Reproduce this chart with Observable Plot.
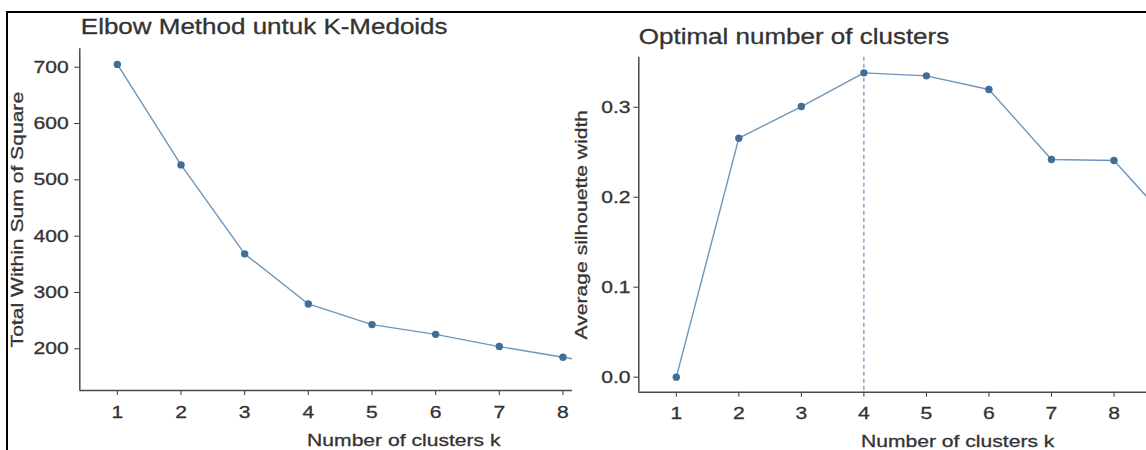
<!DOCTYPE html>
<html>
<head>
<meta charset="utf-8">
<script src="https://cdn.jsdelivr.net/npm/d3@7"></script>
<script src="https://cdn.jsdelivr.net/npm/@observablehq/plot@0.6"></script>
<style>
  html, body { margin: 0; padding: 0; background: #fff; }
  #chart { position: relative; width: 1146px; height: 450px; overflow: hidden; background: #fff; }
  .panel { position: absolute; top: 0; }
  .edge { position: absolute; background: #000; }
</style>
</head>
<body>
<div id="chart">
  <div id="elbow" class="panel" style="left:0;width:572px"></div>
  <div id="silhouette" class="panel" style="left:572px;width:574px"></div>
  <div class="edge" style="left:6px;top:10.5px;width:1140px;height:2px"></div>
  <div class="edge" style="left:6px;top:10.5px;width:2px;height:440px"></div>
</div>
<script>
// Cluster counts evaluated (k = 9 runs just past the right edge of each panel)
const kValues = [1, 2, 3, 4, 5, 6, 7, 8, 9];
// Total within-cluster sum of squares, K-Medoids
const wssValues = [705, 526.6, 368.6, 279.7, 243, 225.7, 204, 185, 166];
// Average silhouette width per k
const silValues = [0, 0.2656, 0.3008, 0.3382, 0.3349, 0.3197, 0.2419, 0.2408, 0.164];
// Full k range of the run (k.max = 10); the x titles are centred on it
const kRunRange = [1, 10];

const kTicks = [1, 2, 3, 4, 5, 6, 7, 8];
const wssTicks = [200, 300, 400, 500, 600, 700];
const silTicks = [0, 0.1, 0.2, 0.3];

const titles = ["Elbow Method untuk K-Medoids", "Optimal number of clusters"];
const xTitle = "Number of clusters k";
const yTitles = ["Total Within Sum of Square", "Average silhouette width"];

const lineColor = "#6d95b9";
const dotColor = "#3f6e98";
const axisColor = "#4a4a4a";
const textColor = "#333333";
const textStretch = 1.22;

const elbowX = [0.41, 8.15];
const elbowY = [126, 732.7];
const silX = [0.4, 8.52];
const silY = [-0.0167, 0.3556];

const elbowData = kValues.map((k, i) => ({k, v: wssValues[i]}));
const silData = kValues.map((k, i) => ({k, v: silValues[i]}));
const bestK = silData[d3.maxIndex(silData, d => d.v)].k;
const xTitleAt = [{k: d3.mean(kRunRange), label: xTitle}];

const baseStyle = {
  fontFamily: "'Liberation Sans', Arial, sans-serif",
  fontSize: "17.3px",
  color: textColor,
  background: "white",
  overflow: "hidden"
};

// Widen every label along its own reading direction and give the glyphs a little more weight
function stretchText(svg, sx) {
  svg.querySelectorAll("text").forEach(t => {
    const tr = t.getAttribute("transform");
    if (tr) {
      t.setAttribute("transform", `${tr} scale(${sx},1)`);
    } else {
      const x = parseFloat(t.getAttribute("x")) || 0;
      t.setAttribute("x", 0);
      t.setAttribute("transform", `translate(${x},0) scale(${sx},1)`);
    }
    t.style.stroke = textColor;
    t.style.strokeWidth = "0.3px";
    t.style.paintOrder = "stroke";
  });
}

const elbow = Plot.plot({
  width: 572,
  height: 450,
  marginLeft: 79.3,
  marginRight: 0,
  marginTop: 48.3,
  marginBottom: 60,
  style: baseStyle,
  x: {type: "linear", domain: elbowX, ticks: kTicks, tickFormat: d3.format("d"), tickSize: 5, tickPadding: 10, label: null},
  y: {type: "linear", domain: elbowY, ticks: wssTicks, tickFormat: d3.format("d"), tickSize: 5, tickPadding: 6,
      label: yTitles[0], labelAnchor: "center", labelOffset: 68.8, labelArrow: "none"},
  marks: [
    Plot.ruleX([elbowX[0]], {stroke: axisColor, strokeWidth: 1.5}),
    Plot.ruleY([elbowY[0]], {stroke: axisColor, strokeWidth: 1.5}),
    Plot.line(elbowData, {x: "k", y: "v", stroke: lineColor, strokeWidth: 1.4, clip: true}),
    Plot.dot(elbowData, {x: "k", y: "v", r: 3.7, fill: dotColor, stroke: "none", clip: true}),
    Plot.text([titles[0]], {text: d => d, frameAnchor: "top-left", textAnchor: "start", lineAnchor: "bottom",
      dx: 1, dy: -15, fontSize: 21.3, fill: textColor}),
    Plot.text(xTitleAt, {x: "k", text: "label", frameAnchor: "bottom", lineAnchor: "bottom", dy: 55, fill: textColor})
  ]
});

const silhouette = Plot.plot({
  width: 574,
  height: 450,
  marginLeft: 66.3,
  marginRight: 0,
  marginTop: 56.7,
  marginBottom: 58.3,
  style: baseStyle,
  x: {type: "linear", domain: silX, ticks: kTicks, tickFormat: d3.format("d"), tickSize: 5, tickPadding: 9.5, label: null},
  y: {type: "linear", domain: silY, ticks: silTicks, tickFormat: d3.format(".1f"), tickSize: 5, tickPadding: 3.3,
      label: yTitles[1], labelAnchor: "center", labelOffset: 64.3, labelArrow: "none"},
  marks: [
    Plot.ruleX([silX[0]], {stroke: axisColor, strokeWidth: 1.5}),
    Plot.ruleY([silY[0]], {stroke: axisColor, strokeWidth: 1.5}),
    Plot.ruleX([bestK], {stroke: "#5b86b0", strokeWidth: 1.1, strokeDasharray: "4,3"}),
    Plot.line(silData, {x: "k", y: "v", stroke: lineColor, strokeWidth: 1.4, clip: true}),
    Plot.dot(silData, {x: "k", y: "v", r: 3.7, fill: dotColor, stroke: "none", clip: true}),
    Plot.text([titles[1]], {text: d => d, frameAnchor: "top-left", textAnchor: "start", lineAnchor: "bottom",
      dx: 0, dy: -13.7, fontSize: 21.3, fill: textColor}),
    Plot.text(xTitleAt, {x: "k", text: "label", frameAnchor: "bottom", lineAnchor: "bottom", dy: 54.3, fill: textColor})
  ]
});

stretchText(elbow, textStretch);
stretchText(silhouette, textStretch);

document.getElementById("elbow").appendChild(elbow);
document.getElementById("silhouette").appendChild(silhouette);
</script>
</body>
</html>
